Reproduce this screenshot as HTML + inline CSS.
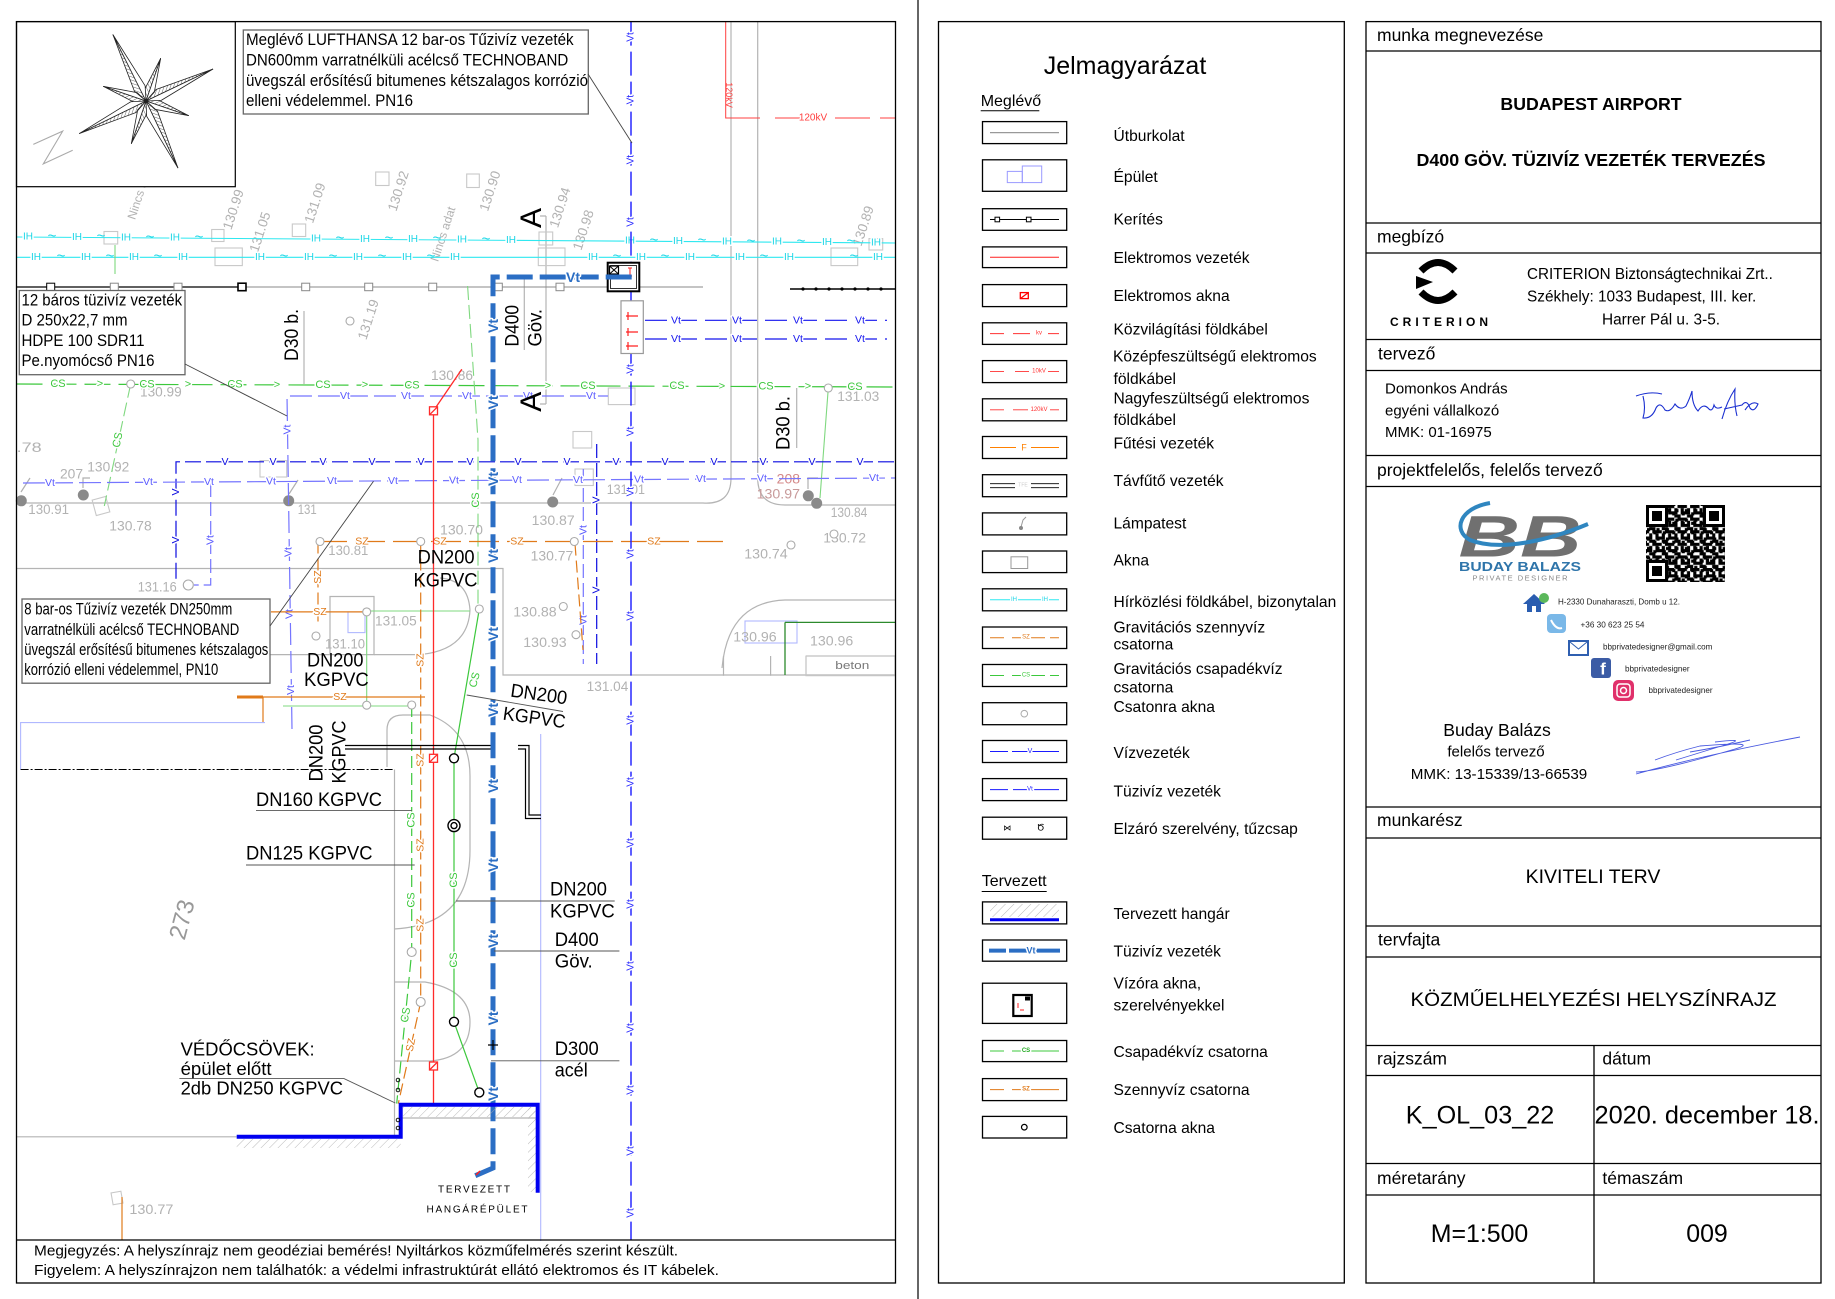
<!DOCTYPE html>
<html><head><meta charset="utf-8"><title>K_OL_03_22 közműelhelyezési helyszínrajz</title>
<style>
html,body{margin:0;padding:0;background:#fff;width:1835px;height:1299px;overflow:hidden}
svg{display:block}
text{font-family:"Liberation Sans",Arial,sans-serif;dominant-baseline:central}
.ol{paint-order:stroke;stroke:#fff;stroke-width:3px;stroke-linejoin:round}
.el{fill:#b2b2b2;font-size:13.5px}
.lg{font-size:15.6px;fill:#000}
.hd{font-size:17.5px;fill:#000}
.dl{font-size:19px;fill:#000}
.an{font-size:16.5px;fill:#000}
</style></head>
<body>
<svg width="1835" height="1299" viewBox="0 0 1835 1299" xmlns="http://www.w3.org/2000/svg">
<defs>
<pattern id="h1" width="3" height="3" patternUnits="userSpaceOnUse" patternTransform="rotate(45)"><line x1="0" y1="0" x2="0" y2="3" stroke="#222" stroke-width="0.7"/></pattern>
<pattern id="hg" width="6" height="6" patternUnits="userSpaceOnUse" patternTransform="rotate(45)"><line x1="0" y1="0" x2="0" y2="6" stroke="#aaa" stroke-width="0.8"/></pattern>
<pattern id="qr" width="12.6" height="12.6" patternUnits="userSpaceOnUse" x="1646" y="505">
<rect x="0" y="0" width="3.15" height="3.15"/><rect x="6.3" y="0" width="6.3" height="3.15"/><rect x="3.15" y="3.15" width="3.15" height="3.15"/><rect x="9.45" y="3.15" width="3.15" height="6.3"/><rect x="0" y="6.3" width="6.3" height="3.15"/><rect x="3.15" y="9.45" width="3.15" height="3.15"/><rect x="6.3" y="9.45" width="3.15" height="3.15"/>
</pattern>
<pattern id="qr2" width="9.45" height="9.45" patternUnits="userSpaceOnUse" x="1647" y="506">
<rect x="0" y="3.15" width="3.15" height="3.15"/><rect x="6.3" y="6.3" width="3.15" height="3.15"/>
</pattern>
<g id="lp"><polygon points="0,0 74,0 14,-6" fill="url(#h1)"/><polygon points="0,0 74,0 14,6" fill="#fff"/></g>
<g id="sp"><polygon points="0,0 45,0 11,-5" fill="url(#h1)"/><polygon points="0,0 45,0 11,5" fill="#fff"/></g>
</defs>

<!-- ============ DRAWING ============ -->
<!-- gray base lines -->
<g fill="none" stroke="#b4b4b4" stroke-width="1.2">
<path d="M16.5,503 H703 Q731,505 731,478 V21.6"/>
<path d="M757.7,21.6 V478 Q757.7,505 785,505 H895"/>
<path d="M16.5,568.5 H503 V675 H895"/>
<path d="M722,668 Q728,602 785,600 H895"/>
<path d="M387,767 V730 Q387,715 403,715 H430 Q470,730 470,776 V850 Q470,925 394,929"/>
<path d="M394,982 H425 Q470,990 470,1022 Q470,1058 430,1061 H394"/>
<path d="M394.5,769.5 V1136.8"/>
<path d="M230,654.6 H374 V596.5 H330 V654.6"/>
<path d="M374,654.6 H420 Q468,650 470,610 Q468,580 440,578"/>
<path d="M400,1118 H538"/>
<path d="M16.5,1136.8 H236.7"/>
<path d="M806,656 H895 M806,656 V675.7 M723.5,656 V675.7 M770.6,656 V675.7"/>
<path d="M524.3,277 V350 M546,216 V404 M540,216 H546 M540,404 H546"/>
<path d="M304,311 V384 M796.7,388 V448"/>
</g>
<g fill="none" stroke="#b0b8ff" stroke-width="1.1">
<path d="M540.7,734 V1241"/>
<path d="M20.6,769.5 V722.6 H265"/>
<rect x="745" y="621" width="52" height="22"/>
<rect x="348" y="612" width="17" height="20.6"/>
</g>
<path d="M20.6,769.5 H393" stroke="#000" stroke-width="0.9" stroke-dasharray="8 2 2 2" fill="none"/>

<!-- gray akna squares -->
<g fill="none" stroke="#c8c8c8" stroke-width="1.1">
<rect x="215" y="248" width="27.3" height="17.6"/><rect x="104" y="231.5" width="13.7" height="12.5"/><rect x="211.7" y="229.5" width="12.3" height="12"/><rect x="292.3" y="224" width="13.4" height="12.5"/><rect x="375.7" y="172" width="13.3" height="13.5"/><rect x="466.7" y="174" width="12.6" height="13.5"/><rect x="538.3" y="248" width="26.7" height="17.6"/><rect x="539" y="232" width="13.7" height="13"/><rect x="831" y="248" width="26.7" height="17.6"/><rect x="869" y="238.6" width="13.7" height="11.4"/><rect x="608.3" y="388" width="26.7" height="16.6"/><rect x="573" y="431.5" width="18.7" height="16.5"/><rect x="260" y="460.6" width="26.7" height="16.4"/><rect x="575" y="469" width="18.3" height="16.5"/><rect x="94" y="498" width="14" height="16" transform="rotate(-15 101 506)"/><rect x="806" y="656" width="89" height="19.7"/><rect x="112" y="1192" width="10" height="12" transform="rotate(-10 117 1198)"/>
</g>

<!-- elevation texts -->
<g class="el">
<text x="140" y="392" textLength="41.7" lengthAdjust="spacingAndGlyphs">130.99</text>
<text x="87.3" y="466.8" textLength="42" lengthAdjust="spacingAndGlyphs">130.92</text>
<text x="60" y="474" textLength="23" lengthAdjust="spacingAndGlyphs">207</text>
<text x="28.3" y="509.5" textLength="40.7" lengthAdjust="spacingAndGlyphs">130.91</text>
<text x="109.3" y="526" textLength="42.4" lengthAdjust="spacingAndGlyphs">130.78</text>
<text x="297.7" y="509.5" textLength="19" lengthAdjust="spacingAndGlyphs">131</text>
<text x="328.3" y="550.6" textLength="40" lengthAdjust="spacingAndGlyphs">130.81</text>
<text x="137.7" y="587" textLength="39" lengthAdjust="spacingAndGlyphs">131.16</text>
<text x="375" y="621" textLength="41.7" lengthAdjust="spacingAndGlyphs">131.05</text>
<text x="325" y="644" textLength="40" lengthAdjust="spacingAndGlyphs">131.10</text>
<text x="16.7" y="447.3" textLength="25" lengthAdjust="spacingAndGlyphs">.78</text>
<text x="431" y="375.5" textLength="42" lengthAdjust="spacingAndGlyphs">130.86</text>
<text x="440" y="530" textLength="43" lengthAdjust="spacingAndGlyphs">130.70</text>
<text x="531.7" y="520.7" textLength="43" lengthAdjust="spacingAndGlyphs">130.87</text>
<text x="530.7" y="556" textLength="42.6" lengthAdjust="spacingAndGlyphs">130.77</text>
<text x="606.7" y="489.6" textLength="38.3" lengthAdjust="spacingAndGlyphs">131.01</text>
<text x="837.3" y="396.3" textLength="42" lengthAdjust="spacingAndGlyphs">131.03</text>
<text x="830.7" y="512.4" textLength="36.6" lengthAdjust="spacingAndGlyphs">130.84</text>
<text x="823.3" y="538" textLength="42.7" lengthAdjust="spacingAndGlyphs">130.72</text>
<text x="744.3" y="554" textLength="43.4" lengthAdjust="spacingAndGlyphs">130.74</text>
<text x="513.3" y="612" textLength="43.4" lengthAdjust="spacingAndGlyphs">130.88</text>
<text x="523.3" y="642.3" textLength="43.4" lengthAdjust="spacingAndGlyphs">130.93</text>
<text x="586.7" y="686.6" textLength="41.6" lengthAdjust="spacingAndGlyphs">131.04</text>
<text x="733.3" y="637" textLength="43.4" lengthAdjust="spacingAndGlyphs">130.96</text>
<text x="810" y="641" textLength="43.3" lengthAdjust="spacingAndGlyphs">130.96</text>
<text x="129.4" y="1209.3" textLength="44" lengthAdjust="spacingAndGlyphs">130.77</text>
<text x="776.7" y="479" textLength="23.3" lengthAdjust="spacingAndGlyphs" fill="#d48a8a">208</text>
<text x="756.7" y="493.8" textLength="43.3" lengthAdjust="spacingAndGlyphs" fill="#c89a9a">130.97</text>
<text transform="translate(233.3,209.5) rotate(-72)" text-anchor="middle">130.99</text>
<text transform="translate(260,232) rotate(-72)" text-anchor="middle">131.05</text>
<text transform="translate(315,203) rotate(-72)" text-anchor="middle">131.09</text>
<text transform="translate(398.3,191) rotate(-72)" text-anchor="middle">130.92</text>
<text transform="translate(490,191) rotate(-72)" text-anchor="middle">130.90</text>
<text transform="translate(560,207.5) rotate(-72)" text-anchor="middle">130.94</text>
<text transform="translate(583.3,230) rotate(-72)" text-anchor="middle">130.98</text>
<text transform="translate(863.3,226) rotate(-72)" text-anchor="middle">130.89</text>
<text transform="translate(368.3,319.5) rotate(-72)" text-anchor="middle">131.19</text>
<text transform="translate(140,192) rotate(-72)" text-anchor="middle" font-size="12">Nincs adat</text>
<text transform="translate(443,234) rotate(-72)" text-anchor="middle" font-size="12">Nincs adat</text>
<text transform="translate(182.4,919.7) rotate(-75)" text-anchor="middle" font-size="24" fill="#999">273</text>
<text x="835.3" y="665.8" font-size="11" fill="#777" textLength="34" lengthAdjust="spacingAndGlyphs">beton</text>
</g>

<!-- lamps -->
<g fill="#8a8a8a">
<circle cx="21.3" cy="500.8" r="5.5"/><circle cx="83.3" cy="495" r="5.5"/><circle cx="288.7" cy="500.8" r="5.5"/><circle cx="552.7" cy="502" r="5.5"/><circle cx="808.3" cy="495.8" r="5.5"/><circle cx="816.7" cy="503.3" r="5.5"/>
</g>
<g stroke="#b0b0b0" stroke-width="1.2" fill="none">
<path d="M21,492 L30,478 M83,488 V478 H90 M289,494 L298,480 M553,495 L562,478 M808,489 V478 H818"/>
</g>

<!-- cyan comm lines -->
<g stroke="#2ee8f0" stroke-width="1.1" fill="none"><path d="M16.5,237 L895,243"/><path d="M16.5,257.3 H895"/></g>
<g fill="#19d6e6" font-size="10" text-anchor="middle" class="ol">
<text x="28" y="237.1">IH</text><text x="77" y="237.4">IH</text><text x="126" y="237.8">IH</text><text x="175" y="238.1">IH</text><text x="316" y="239">IH</text><text x="365" y="239.4">IH</text><text x="413" y="239.7">IH</text><text x="462" y="240">IH</text><text x="511" y="240.4">IH</text><text x="630" y="241.2">IH</text><text x="678" y="241.5">IH</text><text x="727" y="241.8">IH</text><text x="777" y="242.2">IH</text><text x="827" y="242.5">IH</text><text x="876" y="242.9">IH</text>
<text x="36" y="257.3">IH</text><text x="86" y="257.3">IH</text><text x="134" y="257.3">IH</text><text x="183" y="257.3">IH</text><text x="260" y="257.3">IH</text><text x="309" y="257.3">IH</text><text x="358" y="257.3">IH</text><text x="407" y="257.3">IH</text><text x="455" y="257.3">IH</text><text x="593" y="257.3">IH</text><text x="641" y="257.3">IH</text><text x="690" y="257.3">IH</text><text x="740" y="257.3">IH</text><text x="789" y="257.3">IH</text><text x="878" y="257.3">IH</text>
</g>
<g fill="#19d6e6" font-size="15" text-anchor="middle">
<text x="52" y="236">~</text><text x="101" y="236">~</text><text x="150" y="237">~</text><text x="199" y="237">~</text><text x="340" y="238">~</text><text x="389" y="238">~</text><text x="437" y="238">~</text><text x="486" y="239">~</text><text x="654" y="240">~</text><text x="702" y="240">~</text><text x="751" y="241">~</text><text x="801" y="241">~</text><text x="851" y="241">~</text>
<text x="61" y="256">~</text><text x="110" y="256">~</text><text x="158" y="256">~</text><text x="284" y="256">~</text><text x="333" y="256">~</text><text x="382" y="256">~</text><text x="431" y="256">~</text><text x="617" y="256">~</text><text x="665" y="256">~</text><text x="715" y="256">~</text><text x="764" y="256">~</text><text x="854" y="256">~</text>
</g>

<!-- fence -->
<path d="M16.5,287 H241.7" stroke="#000" stroke-width="1.3"/>
<path d="M241.7,287 H703" stroke="#888" stroke-width="1"/>
<g fill="#fff" stroke="#888" stroke-width="1">
<rect x="46.7" y="283.2" width="8" height="7.5" stroke="#000"/><rect x="110.3" y="283.2" width="8" height="7.5"/><rect x="174" y="283.2" width="8" height="7.5"/><rect x="238" y="283.2" width="8" height="7.5" stroke="#000" stroke-width="1.6"/><rect x="301.7" y="283.2" width="8" height="7.5"/><rect x="364.7" y="283.2" width="8" height="7.5"/><rect x="428.7" y="283.2" width="8" height="7.5"/><rect x="494.3" y="283.2" width="8" height="7.5"/><rect x="556" y="283.2" width="8" height="7.5"/><rect x="620" y="283.2" width="8" height="7.5"/>
</g>
<path d="M790,289 H895" stroke="#000" stroke-width="1.5"/>
<g fill="#000"><circle cx="803" cy="289" r="1.6"/><circle cx="816" cy="289" r="1.6"/><circle cx="829" cy="289" r="1.6"/><circle cx="842" cy="289" r="1.6"/><circle cx="855" cy="289" r="1.6"/><circle cx="868" cy="289" r="1.6"/><circle cx="881" cy="289" r="1.6"/></g>

<!-- 120kV -->
<g stroke="#ff4040" stroke-width="1" fill="none"><path d="M725.7,21.6 V118 H760 M775,118 H800 M835,118 H870 M880,118 H895"/></g>
<g fill="#ff4040" font-size="10"><text x="813" y="118" text-anchor="middle" class="ol">120kV</text><text transform="translate(729,95) rotate(90)" text-anchor="middle" font-size="9">120kV</text></g>

<!-- green CS -->
<g stroke="#3cc83c" stroke-width="1.2" fill="none">
<path d="M16.5,384 L895,387" stroke-dasharray="26 8"/>
<path d="M454,758 V1022 L479.3,1092.4 M454,758 L479.3,609"/>
<path d="M411.7,705 V952 L396.7,1103.6" stroke-dasharray="12 5"/>
</g>
<g stroke="#7fd87f" stroke-width="1.1" fill="none">
<path d="M467.6,286 L478,440 V609" stroke-dasharray="14 5"/>
<path d="M115,245 V274"/>
<path d="M130.7,384 L104.3,506" stroke-dasharray="14 5"/>
<path d="M366.7,610 V705 M283,706 H411.7 M366.7,611 H470"/>
<path d="M828.3,388 L820,498"/>
</g>
<path d="M785,622.4 H895 M785,622.4 V675" stroke="#2d8a2d" stroke-width="1.3" fill="none"/>
<g fill="#3cc83c" font-size="11" text-anchor="middle" class="ol">
<text x="58" y="384.1">CS</text><text x="147" y="384.4">CS</text><text x="235" y="384.7">CS</text><text x="323" y="385">CS</text><text x="412" y="385.3">CS</text><text x="588" y="386">CS</text><text x="677" y="386.2">CS</text><text x="766" y="386.5">CS</text><text x="855" y="386.9">CS</text>
<text x="100" y="384">&gt;</text><text x="188" y="384.5">&gt;</text><text x="277" y="385">&gt;</text><text x="365" y="385">&gt;</text><text x="548" y="386">&gt;</text><text x="722" y="386.5">&gt;</text><text x="808" y="386.7">&gt;</text>
<text transform="translate(454,880) rotate(-90)">CS</text><text transform="translate(454,960) rotate(-90)">CS</text><text transform="translate(411.7,820) rotate(-90)">CS</text><text transform="translate(411.7,900) rotate(-90)">CS</text><text transform="translate(475,680) rotate(-75)">CS</text><text transform="translate(406,1015) rotate(-80)">CS</text><text transform="translate(476,500) rotate(-90)">CS</text><text transform="translate(118,440) rotate(-78)">CS</text>
</g>

<!-- blue water lines -->
<g fill="none" stroke-width="1.2">
<path d="M176,578.8 V461.8 H895" stroke="#0a0ae0" stroke-dasharray="16 5"/>
<path d="M23,483 L895,478" stroke="#7575ff" stroke-dasharray="22 6"/>
<path d="M292,729 L287,396 H608" stroke="#7575ff" stroke-dasharray="22 6"/>
<path d="M210.7,483 V585 H194" stroke="#7575ff" stroke-dasharray="14 5"/>
<path d="M583.3,469 V664" stroke="#7575ff" stroke-dasharray="14 5"/>
<path d="M596.7,444 V664" stroke="#0a0ae0" stroke-dasharray="14 5"/>
<path d="M645,320.3 H887 M645,339 H887" stroke="#1515ee" stroke-dasharray="22 8"/>
</g>
<g fill="#0a0ae0" font-size="10.5" text-anchor="middle" class="ol">
<text x="225" y="461.8">V</text><text x="273" y="461.8">V</text><text x="323" y="461.8">V</text><text x="372" y="461.8">V</text><text x="421" y="461.8">V</text><text x="470" y="461.8">V</text><text x="518" y="461.8">V</text><text x="567" y="461.8">V</text><text x="616" y="461.8">V</text><text x="665" y="461.8">V</text><text x="714" y="461.8">V</text><text x="763" y="461.8">V</text><text x="812" y="461.8">V</text><text x="860" y="461.8">V</text>
<text transform="translate(176,492) rotate(-90)">V</text><text transform="translate(176,540) rotate(-90)">V</text><text transform="translate(596.7,500) rotate(-90)">V</text><text transform="translate(596.7,590) rotate(-90)">V</text>
</g>
<g fill="#5a5aff" font-size="10.5" text-anchor="middle" class="ol">
<text x="50" y="482.8">Vt</text><text x="148" y="482.2">Vt</text><text x="209" y="481.9">Vt</text><text x="271" y="481.5">Vt</text><text x="332" y="481.2">Vt</text><text x="393" y="480.8">Vt</text><text x="454" y="480.5">Vt</text><text x="517" y="480.1">Vt</text><text x="578" y="479.8">Vt</text><text x="639" y="479.4">Vt</text><text x="701" y="479.1">Vt</text><text x="762" y="478.7">Vt</text><text x="874" y="478.1">Vt</text>
<text x="345" y="396">Vt</text><text x="406" y="396">Vt</text><text x="467" y="396">Vt</text><text x="528" y="396">Vt</text><text x="591" y="396">Vt</text>
<text transform="translate(287.5,429.5) rotate(-90)">Vt</text><text transform="translate(288.5,552) rotate(-90)">Vt</text><text transform="translate(289.5,614) rotate(-90)">Vt</text><text transform="translate(291,690) rotate(-90)">Vt</text><text transform="translate(210.7,540) rotate(-90)">Vt</text><text transform="translate(583.3,530) rotate(-90)">Vt</text><text transform="translate(583.3,620) rotate(-90)">Vt</text>
</g>
<g fill="#1515ee" font-size="10.5" text-anchor="middle" class="ol">
<text x="676" y="320.3">Vt</text><text x="737" y="320.3">Vt</text><text x="798" y="320.3">Vt</text><text x="860" y="320.3">Vt</text>
<text x="676" y="339">Vt</text><text x="737" y="339">Vt</text><text x="798" y="339">Vt</text><text x="860" y="339">Vt</text>
</g>

<!-- orange sewer -->
<g stroke="#e07a1a" stroke-width="1.2" fill="none">
<path d="M317,541.5 H723" stroke-dasharray="30 8"/>
<path d="M420.7,541.5 V1002 L398.3,1103.6" stroke-dasharray="12 5"/>
<path d="M318,541.5 V625" stroke-dasharray="12 5"/>
<path d="M271,611.9 H367"/>
<path d="M237,697 H263" stroke-width="3"/><path d="M263,697 H425 M263,697 V722"/>
<path d="M575,543.6 L583,650" stroke-dasharray="12 5"/>
<path d="M122,1197 V1240"/>
</g>
<g fill="#e07a1a" font-size="10.5" text-anchor="middle" class="ol">
<text x="362" y="541.5">SZ</text><text x="440" y="541.5">SZ</text><text x="517" y="541.5">SZ</text><text x="654" y="541.5">SZ</text><text x="320" y="611.9">SZ</text><text x="340" y="697">SZ</text>
<text transform="translate(318,577) rotate(-90)">SZ</text><text transform="translate(420.7,660) rotate(-90)">SZ</text><text transform="translate(420.7,760) rotate(-90)">SZ</text><text transform="translate(420.7,845) rotate(-90)">SZ</text><text transform="translate(420.7,925) rotate(-90)">SZ</text><text transform="translate(411,1045) rotate(-78)">SZ</text>
</g>

<!-- manhole circles -->
<g fill="#fff" stroke="#aaa" stroke-width="1.1">
<circle cx="130.7" cy="384" r="4"/><circle cx="188.3" cy="585" r="5"/><circle cx="320" cy="541.5" r="4"/><circle cx="420.7" cy="541.5" r="4"/><circle cx="574.3" cy="541.5" r="4"/><circle cx="828.3" cy="388" r="4"/><circle cx="316" cy="636" r="4"/><circle cx="366.7" cy="611.9" r="4"/><circle cx="366.7" cy="705.2" r="4"/><circle cx="411.7" cy="705" r="4"/><circle cx="479.3" cy="609" r="4"/><circle cx="563.3" cy="606.5" r="4"/><circle cx="576" cy="634.7" r="4"/><circle cx="411.7" cy="952" r="4.5"/><circle cx="420.7" cy="1002" r="4.5"/><circle cx="350" cy="321" r="4"/><circle cx="834" cy="534" r="4"/><circle cx="791" cy="545" r="4"/>
</g>

<!-- red electric -->
<g stroke="#ff2a2a" stroke-width="1.3" fill="none"><path d="M433.5,410.8 V1103.6"/><path d="M433.5,410.8 L461.8,369.3"/></g>
<g stroke="#ff2a2a" stroke-width="1.3" fill="#fff">
<rect x="429.5" y="406.8" width="8" height="8"/><path d="M429.5,414.8 L437.5,406.8"/>
<rect x="429.5" y="754.3" width="8" height="8"/><path d="M429.5,762.3 L437.5,754.3"/>
<rect x="429.5" y="1062" width="8" height="8"/><path d="M429.5,1070 L437.5,1062"/>
</g>

<!-- black double line -->
<path d="M345,745.5 H493 M345,749 H493 M518,745.5 H529 V815 H541 M518,749 H525.5 V818.5 H541" stroke="#000" stroke-width="1.2" fill="none"/>

<!-- green/black circles on planned lines -->
<g fill="#fff" stroke="#000" stroke-width="1.4">
<circle cx="454" cy="758.3" r="4.5"/><circle cx="454" cy="825.6" r="6"/><circle cx="454" cy="825.6" r="3"/><circle cx="454" cy="1021.8" r="4.5"/><circle cx="479.3" cy="1092.4" r="4.5"/>
</g>

<!-- main Vt vertical -->
<path d="M631,21.6 V1240" stroke="#1a1aff" stroke-width="1.4" stroke-dasharray="24 6" fill="none"/>
<g fill="#2a2aff" font-size="10" text-anchor="middle" class="ol">
<text transform="translate(631,37) rotate(-90)">Vt</text><text transform="translate(631,99.6) rotate(-90)">Vt</text><text transform="translate(631,159.7) rotate(-90)">Vt</text><text transform="translate(631,222) rotate(-90)">Vt</text><text transform="translate(631,369) rotate(-90)">Vt</text><text transform="translate(631,431.5) rotate(-90)">Vt</text><text transform="translate(631,491.7) rotate(-90)">Vt</text><text transform="translate(631,554) rotate(-90)">Vt</text><text transform="translate(631,616) rotate(-90)">Vt</text><text transform="translate(631,720) rotate(-90)">Vt</text><text transform="translate(631,782) rotate(-90)">Vt</text><text transform="translate(631,843) rotate(-90)">Vt</text><text transform="translate(631,904) rotate(-90)">Vt</text><text transform="translate(631,966) rotate(-90)">Vt</text><text transform="translate(631,1028) rotate(-90)">Vt</text><text transform="translate(631,1090) rotate(-90)">Vt</text><text transform="translate(631,1151) rotate(-90)">Vt</text><text transform="translate(631,1213) rotate(-90)">Vt</text>
</g>

<!-- meter boxes -->
<rect x="607.7" y="262.7" width="31.6" height="28.6" fill="#fff" stroke="#000" stroke-width="2"/>
<rect x="610.5" y="265.5" width="26" height="23" fill="none" stroke="#000" stroke-width="0.8"/>
<rect x="609.5" y="266" width="9" height="8" fill="#fff" stroke="#000" stroke-width="1.2"/>
<path d="M609.5,266 L618.5,274 M618.5,266 L609.5,274" stroke="#000" stroke-width="1"/>
<path d="M630,268 V276 M628,268 H632 M628,276 H632" stroke="#ff2020" stroke-width="1"/>
<rect x="621" y="300.8" width="22.3" height="52.7" fill="#fff" stroke="#999" stroke-width="1.2"/>
<path d="M628,312 V320 M626,316 H638 M628,328 V336 M626,332 H638 M628,342 V350 M626,346 H638" stroke="#ff2020" stroke-width="1.2"/>

<!-- planned pipe -->
<path d="M631.7,277 H493 V1168 L470,1178" stroke="#2b6ec4" stroke-width="5" fill="none" stroke-dasharray="26 7"/>
<path d="M476,1175 L480,1171" stroke="#ff2020" stroke-width="1.5"/>
<g fill="#2b6ec4" font-size="14" font-weight="bold" text-anchor="middle" class="ol">
<text x="573" y="277">Vt</text>
<text transform="translate(493,326) rotate(-90)">Vt</text><text transform="translate(493,402.5) rotate(-90)">Vt</text><text transform="translate(493,479) rotate(-90)">Vt</text><text transform="translate(493,556) rotate(-90)">Vt</text><text transform="translate(493,634) rotate(-90)">Vt</text><text transform="translate(493,710) rotate(-90)">Vt</text><text transform="translate(493,786) rotate(-90)">Vt</text><text transform="translate(493,865) rotate(-90)">Vt</text><text transform="translate(493,941) rotate(-90)">Vt</text><text transform="translate(493,1018.5) rotate(-90)">Vt</text><text transform="translate(493,1094) rotate(-90)">Vt</text>
</g>
<path d="M488,1045 H498 M493,1040 V1050" stroke="#000" stroke-width="1.2"/>

<!-- planned hangar -->
<rect x="236.7" y="1139" width="164" height="9" fill="url(#hg)"/>
<rect x="403" y="1107" width="132" height="10" fill="url(#hg)"/>
<rect x="528" y="1107" width="8" height="85" fill="url(#hg)"/>
<path d="M236.7,1136.8 H400.7 V1104.8 H537.7 V1192.8" stroke="#0000f0" stroke-width="4" fill="none"/>
<g fill="none" stroke="#000" stroke-width="0.9"><circle cx="398" cy="1080" r="1.8"/><circle cx="398" cy="1090" r="1.8"/><circle cx="398" cy="1120" r="1.8"/><circle cx="398" cy="1128" r="1.8"/></g>
<text x="474" y="1190" text-anchor="middle" font-size="10" textLength="72" lengthAdjust="spacing">TERVEZETT</text>
<text x="477" y="1210" text-anchor="middle" font-size="10" textLength="101" lengthAdjust="spacing">HANGÁRÉPÜLET</text>

<!-- compass box -->
<rect x="16.5" y="21.6" width="218.8" height="165.1" fill="#fff" stroke="#000" stroke-width="1.2"/>
<polyline points="33.3,144.4 62.7,131.1 43.3,163.9 72.7,150.2" fill="none" stroke="#aaa" stroke-width="1.1"/>
<g transform="translate(146,101)" stroke="#222" stroke-width="0.8" stroke-linejoin="round">
<use href="#sp" transform="rotate(-71)"/><use href="#sp" transform="rotate(19)"/><use href="#sp" transform="rotate(109)"/><use href="#sp" transform="rotate(-161)"/>
<use href="#lp" transform="rotate(-116.5)"/><use href="#lp" transform="rotate(-25.5)"/><use href="#lp" transform="rotate(64.5)"/><use href="#lp" transform="rotate(154)"/>
</g>

<!-- annotation boxes -->
<rect x="243.3" y="30" width="345" height="84" fill="#fff" stroke="#666" stroke-width="1.3"/>
<g class="an">
<text x="246" y="40.2" textLength="327.6" lengthAdjust="spacingAndGlyphs">Meglévő LUFTHANSA 12 bar-os Tűzivíz vezeték</text>
<text x="246" y="60.5" textLength="322.3" lengthAdjust="spacingAndGlyphs">DN600mm varratnélküli acélcső TECHNOBAND</text>
<text x="246" y="80.9" textLength="342" lengthAdjust="spacingAndGlyphs">üvegszál erősítésű bitumenes kétszalagos korrózió</text>
<text x="246" y="100.8" textLength="167" lengthAdjust="spacingAndGlyphs">elleni védelemmel. PN16</text>
</g>
<path d="M588,74 L632,143" stroke="#444" stroke-width="0.9"/>

<rect x="19.3" y="290.5" width="165.7" height="84.2" fill="#fff" stroke="#666" stroke-width="1.3"/>
<g class="an">
<text x="21.5" y="300.5" textLength="160.6" lengthAdjust="spacingAndGlyphs">12 báros tüzivíz vezeték</text>
<text x="21.5" y="320.5" textLength="106" lengthAdjust="spacingAndGlyphs">D 250x22,7 mm</text>
<text x="21.5" y="341" textLength="123" lengthAdjust="spacingAndGlyphs">HDPE 100 SDR11</text>
<text x="21.5" y="361" textLength="133" lengthAdjust="spacingAndGlyphs">Pe.nyomócső PN16</text>
</g>
<path d="M185,364 L287,416" stroke="#444" stroke-width="0.9"/>

<rect x="22" y="599" width="248" height="84.2" fill="#fff" stroke="#666" stroke-width="1.3"/>
<g class="an">
<text x="24.3" y="609.3" textLength="208" lengthAdjust="spacingAndGlyphs">8 bar-os Tűzivíz vezeték DN250mm</text>
<text x="24.3" y="629.8" textLength="215" lengthAdjust="spacingAndGlyphs">varratnélküli acélcső TECHNOBAND</text>
<text x="24.3" y="650" textLength="244" lengthAdjust="spacingAndGlyphs">üvegszál erősítésű bitumenes kétszalagos</text>
<text x="24.3" y="669.8" textLength="194" lengthAdjust="spacingAndGlyphs">korrózió elleni védelemmel, PN10</text>
</g>
<path d="M270,626 L373.5,481.3" stroke="#444" stroke-width="0.9"/>

<!-- drawing labels -->
<g class="dl">
<text x="417.6" y="558" textLength="57" lengthAdjust="spacingAndGlyphs">DN200</text>
<text x="413.5" y="581" textLength="64" lengthAdjust="spacingAndGlyphs">KGPVC</text>
<text x="307" y="661" textLength="56.5" lengthAdjust="spacingAndGlyphs">DN200</text>
<text x="304" y="680.7" textLength="64.8" lengthAdjust="spacingAndGlyphs">KGPVC</text>
<text transform="translate(317,753) rotate(-90)" text-anchor="middle" textLength="57" lengthAdjust="spacingAndGlyphs">DN200</text>
<text transform="translate(340,752) rotate(-90)" text-anchor="middle" textLength="63" lengthAdjust="spacingAndGlyphs">KGPVC</text>
<text x="256" y="800.6" textLength="126" lengthAdjust="spacingAndGlyphs">DN160 KGPVC</text>
<text x="246" y="854" textLength="126.5" lengthAdjust="spacingAndGlyphs">DN125 KGPVC</text>
<text transform="translate(510.6,691) rotate(8)" textLength="57" lengthAdjust="spacingAndGlyphs">DN200</text>
<text transform="translate(503,714) rotate(8)" textLength="63" lengthAdjust="spacingAndGlyphs">KGPVC</text>
<text x="550" y="889.8" textLength="57" lengthAdjust="spacingAndGlyphs">DN200</text>
<text x="550" y="912" textLength="64.7" lengthAdjust="spacingAndGlyphs">KGPVC</text>
<text x="554.7" y="940.5" textLength="44" lengthAdjust="spacingAndGlyphs">D400</text>
<text x="554.7" y="962" textLength="38" lengthAdjust="spacingAndGlyphs">Göv.</text>
<text x="554.7" y="1049.6" textLength="44" lengthAdjust="spacingAndGlyphs">D300</text>
<text x="554.7" y="1071" textLength="33" lengthAdjust="spacingAndGlyphs">acél</text>
<text transform="translate(513,325.7) rotate(-90)" text-anchor="middle" textLength="41.5" lengthAdjust="spacingAndGlyphs">D400</text>
<text transform="translate(536,327.7) rotate(-90)" text-anchor="middle" textLength="37.5" lengthAdjust="spacingAndGlyphs">Göv.</text>
<text transform="translate(292.5,335) rotate(-90)" text-anchor="middle" textLength="52" lengthAdjust="spacingAndGlyphs">D30 b.</text>
<text transform="translate(784.2,423) rotate(-90)" text-anchor="middle" textLength="54" lengthAdjust="spacingAndGlyphs">D30 b.</text>
<text transform="translate(531.7,218) rotate(-90)" text-anchor="middle" font-size="30">A</text>
<text transform="translate(531.7,401.7) rotate(-90)" text-anchor="middle" font-size="30">A</text>
</g>
<g font-size="18" fill="#000">
<text x="180.6" y="1049.6" textLength="134" lengthAdjust="spacingAndGlyphs">VÉDŐCSÖVEK:</text>
<text x="180.6" y="1069" textLength="91" lengthAdjust="spacingAndGlyphs">épület előtt</text>
<text x="180.6" y="1088.6" textLength="162.4" lengthAdjust="spacingAndGlyphs">2db DN250 KGPVC</text>
</g>
<g stroke="#555" stroke-width="0.9" fill="none">
<path d="M256,810.6 H411.8"/><path d="M246,865 H414.7"/><path d="M466.7,695 L563,711.5"/><path d="M456,901 H614.7"/><path d="M494,951 H619.4"/><path d="M491,1060.8 H619.4"/><path d="M179.4,1078.6 H344 L395.3,1103"/>
</g>

<!-- notes -->
<path d="M16.5,1240 H895.5" stroke="#000" stroke-width="1.2"/>
<text x="34" y="1251" font-size="15" textLength="644" lengthAdjust="spacingAndGlyphs">Megjegyzés: A helyszínrajz nem geodéziai bemérés! Nyiltárkos közműfelmérés szerint készült.</text>
<text x="34" y="1270.7" font-size="15" textLength="685" lengthAdjust="spacingAndGlyphs">Figyelem: A helyszínrajzon nem találhatók:  a védelmi infrastruktúrát ellátó elektromos és IT kábelek.</text>

<!-- frame -->
<rect x="16.5" y="21.6" width="879" height="1261.4" fill="none" stroke="#000" stroke-width="1.3"/>
<path d="M918,0 V1299" stroke="#000" stroke-width="1.2"/>

<!-- ============ LEGEND ============ -->
<rect x="938.5" y="21.6" width="405.8" height="1261.4" fill="none" stroke="#000" stroke-width="1.3"/>
<text x="1125" y="66" text-anchor="middle" font-size="25">Jelmagyarázat</text>
<text x="980.7" y="101.7" font-size="16">Meglévő</text>
<path d="M980.7,110.8 H1039.3" stroke="#000" stroke-width="1"/>
<text x="981.7" y="881.5" font-size="16">Tervezett</text>
<path d="M981.7,891.5 H1046.7" stroke="#000" stroke-width="1"/>

<g fill="none" stroke="#000" stroke-width="1.3">
<rect x="982.5" y="121.6" width="84.2" height="22"/>
<rect x="982.5" y="159.8" width="84.2" height="31.5"/>
<rect x="982.5" y="208.7" width="84.2" height="21.6"/>
<rect x="982.5" y="246.9" width="84.2" height="20.7"/>
<rect x="982.5" y="284.6" width="84.2" height="22"/>
<rect x="982.5" y="322.8" width="84.2" height="21.6"/>
<rect x="982.5" y="360.6" width="84.2" height="22"/>
<rect x="982.5" y="398.8" width="84.2" height="22"/>
<rect x="982.5" y="436.5" width="84.2" height="22"/>
<rect x="982.5" y="474.7" width="84.2" height="22"/>
<rect x="982.5" y="512.9" width="84.2" height="22"/>
<rect x="982.5" y="551" width="84.2" height="21.6"/>
<rect x="982.5" y="588.8" width="84.2" height="22"/>
<rect x="982.5" y="627" width="84.2" height="21.5"/>
<rect x="982.5" y="664.5" width="84.2" height="22"/>
<rect x="982.5" y="702.7" width="84.2" height="22"/>
<rect x="982.5" y="740.5" width="84.2" height="22"/>
<rect x="982.5" y="778.6" width="84.2" height="22"/>
<rect x="982.5" y="817.2" width="84.2" height="22"/>
<rect x="982.5" y="901.9" width="84.2" height="22"/>
<rect x="982.5" y="940" width="84.2" height="21.2"/>
<rect x="982.5" y="983.2" width="84.2" height="40.2"/>
<rect x="982.5" y="1040.5" width="84.2" height="21.1"/>
<rect x="982.5" y="1078.6" width="84.2" height="22"/>
<rect x="982.5" y="1116.4" width="84.2" height="21.6"/>
</g>
<!-- legend symbols -->
<path d="M990,132.6 H1059" stroke="#999" stroke-width="1.2"/>
<rect x="1007.3" y="171.4" width="15" height="11.2" fill="none" stroke="#9a9aff"/><rect x="1022.3" y="166" width="19.4" height="16.6" fill="none" stroke="#9a9aff"/>
<path d="M990,219.5 H1059" stroke="#000" stroke-width="1"/><rect x="995" y="217.2" width="4.6" height="4.6" fill="#fff" stroke="#000"/><rect x="1026.4" y="217.2" width="4.6" height="4.6" fill="#fff" stroke="#000"/>
<path d="M990,257.3 H1059" stroke="#ff2020" stroke-width="1"/>
<rect x="1020.3" y="292.6" width="8" height="6" fill="#fff" stroke="#ff0000" stroke-width="1.3"/><path d="M1020.3,298.6 L1028.3,292.6" stroke="#ff0000" stroke-width="1.2"/>
<path d="M990,333.6 H1004 M1013,333.6 H1030 M1048,333.6 H1059" stroke="#ff3030" stroke-width="1"/><text x="1039" y="333.6" font-size="6" fill="#ff3030" text-anchor="middle">kv</text>
<path d="M990,371.6 H1004 M1015,371.6 H1029 M1048,371.6 H1059" stroke="#ff3030" stroke-width="0.9"/><text x="1039" y="371.6" font-size="6" fill="#ff3030" text-anchor="middle">10kV</text>
<path d="M990,409.8 H1004 M1013,409.8 H1028 M1050,409.8 H1059" stroke="#ff3030" stroke-width="0.9"/><text x="1039" y="409.8" font-size="6" fill="#ff3030" text-anchor="middle">120kV</text>
<path d="M990,447.5 H1016 M1031,447.5 H1059" stroke="#ff8000" stroke-width="1"/><text x="1024" y="447.5" font-size="9" fill="#ff8000" text-anchor="middle">F</text>
<path d="M990,483.7 H1015 M1031,483.7 H1059 M990,487.7 H1015 M1031,487.7 H1059" stroke="#000" stroke-width="0.9"/><text x="1023" y="485.7" font-size="5" fill="#ccc" text-anchor="middle">TFE</text>
<path d="M1021,527 L1023,520 L1026,517" stroke="#999" fill="none"/><circle cx="1021" cy="528" r="2" fill="#888"/>
<rect x="1011" y="556.8" width="16.7" height="11.7" fill="none" stroke="#999"/>
<path d="M990,599.8 H1059" stroke="#2ee8f0" stroke-width="1"/><text x="1014" y="599.8" font-size="6" fill="#19d6e6" text-anchor="middle" class="ol">IH</text><text x="1045" y="599.8" font-size="6" fill="#19d6e6" text-anchor="middle" class="ol">IH</text>
<path d="M990,637.7 H1004 M1012,637.7 H1059" stroke="#e07a1a" stroke-width="1" stroke-dasharray="14 5"/><text x="1026" y="637.7" font-size="6" fill="#e07a1a" text-anchor="middle" class="ol">SZ</text>
<path d="M990,675.5 H1004 M1012,675.5 H1059" stroke="#3cc83c" stroke-width="1" stroke-dasharray="14 5"/><text x="1026" y="675.5" font-size="6" fill="#3cc83c" text-anchor="middle" class="ol">CS</text>
<circle cx="1024.3" cy="713.7" r="3.3" fill="none" stroke="#aaa"/>
<path d="M990,751.5 H1008 M1012,751.5 H1059" stroke="#1a1aff" stroke-width="1"/><text x="1030" y="751.5" font-size="7" fill="#1a1aff" text-anchor="middle" class="ol">V</text>
<path d="M990,789.6 H1008 M1013,789.6 H1059" stroke="#1a1aff" stroke-width="1"/><text x="1030" y="789.6" font-size="6" fill="#1a1aff" text-anchor="middle" class="ol">Vt</text>
<text x="1007.3" y="828.2" font-size="8" text-anchor="middle">⋈</text><text x="1040.7" y="827.5" font-size="9" text-anchor="middle">Ծ</text>
<rect x="990" y="904" width="69" height="13" fill="url(#hg)"/><path d="M990,919.7 H1059" stroke="#0000f0" stroke-width="3"/>
<path d="M989,950.6 H1006 M1009,950.6 H1060" stroke="#2b6ec4" stroke-width="4"/><text x="1031" y="950.6" font-size="9" font-weight="bold" fill="#2b6ec4" text-anchor="middle" class="ol">Vt</text>
<rect x="1013.3" y="995" width="18.4" height="21" fill="#fff" stroke="#000" stroke-width="2.2"/><rect x="1025" y="996.5" width="5" height="4" fill="#000"/><path d="M1018,1003 V1008 M1020,1010 H1024" stroke="#ff2020" stroke-width="1"/>
<path d="M990,1051 H1004 M1012,1051 H1059" stroke="#3cc83c" stroke-width="1"/><text x="1026" y="1051" font-size="6" fill="#22aa22" font-weight="bold" text-anchor="middle" class="ol">CS</text>
<path d="M990,1089.6 H1004 M1012,1089.6 H1059" stroke="#e07a1a" stroke-width="1"/><text x="1026" y="1089.6" font-size="6" fill="#e07a1a" font-weight="bold" text-anchor="middle" class="ol">SZ</text>
<circle cx="1024.3" cy="1127.2" r="2.8" fill="#fff" stroke="#000" stroke-width="1.2"/>

<g class="lg">
<text x="1113.5" y="136.5">Útburkolat</text>
<text x="1113.5" y="177.6">Épület</text>
<text x="1113.5" y="220">Kerítés</text>
<text x="1113.5" y="258.5">Elektromos vezeték</text>
<text x="1113.5" y="296.7">Elektromos akna</text>
<text x="1113.5" y="330">Közvilágítási földkábel</text>
<text x="1113" y="357">Középfeszültségű elektromos</text>
<text x="1113.5" y="379.7">földkábel</text>
<text x="1113.5" y="399">Nagyfeszültségű elektromos</text>
<text x="1113.5" y="420.7">földkábel</text>
<text x="1113.5" y="444">Fűtési vezeték</text>
<text x="1113.5" y="481.7">Távfűtő vezeték</text>
<text x="1113.5" y="524">Lámpatest</text>
<text x="1113.5" y="561">Akna</text>
<text x="1113.5" y="602.5">Hírközlési földkábel, bizonytalan</text>
<text x="1113.5" y="628">Gravitációs szennyvíz</text>
<text x="1113.5" y="645">csatorna</text>
<text x="1113.5" y="669.5">Gravitációs csapadékvíz</text>
<text x="1113.5" y="687.8">csatorna</text>
<text x="1113.5" y="707.7">Csatonra akna</text>
<text x="1113.5" y="753.7">Vízvezeték</text>
<text x="1113.5" y="791.9">Tüzivíz vezeték</text>
<text x="1113.5" y="829.3">Elzáró szerelvény, tűzcsap</text>
<text x="1113.5" y="914.3">Tervezett hangár</text>
<text x="1113.5" y="952">Tüzivíz vezeték</text>
<text x="1113.5" y="984">Vízóra akna,</text>
<text x="1113.5" y="1006">szerelvényekkel</text>
<text x="1113.5" y="1052.5">Csapadékvíz csatorna</text>
<text x="1113.5" y="1090.7">Szennyvíz csatorna</text>
<text x="1113.5" y="1128.4">Csatorna akna</text>
</g>

<!-- ============ TITLE BLOCK ============ -->
<rect x="1366" y="21.6" width="455" height="1261.4" fill="none" stroke="#000" stroke-width="1.3"/>
<path d="M1366,51 H1821 M1366,223 H1821 M1366,253 H1821 M1366,339.5 H1821 M1366,370.5 H1821 M1366,455.5 H1821 M1366,486.5 H1821 M1366,807 H1821 M1366,838 H1821 M1366,926 H1821 M1366,957 H1821 M1366,1045.5 H1821 M1366,1075.5 H1821 M1366,1163.5 H1821 M1366,1195 H1821 M1594,1045.5 V1283" stroke="#000" stroke-width="1.3" fill="none"/>
<g class="hd">
<text x="1377" y="35">munka megnevezése</text>
<text x="1377" y="236.5">megbízó</text>
<text x="1378" y="353.5">tervező</text>
<text x="1377" y="470">projektfelelős, felelős tervező</text>
<text x="1377" y="820">munkarész</text>
<text x="1378" y="939.6">tervfajta</text>
<text x="1377" y="1058.7">rajzszám</text>
<text x="1602.4" y="1058.7">dátum</text>
<text x="1377" y="1178">méretarány</text>
<text x="1602.4" y="1178">témaszám</text>
</g>
<text x="1591" y="104" text-anchor="middle" font-size="17.7" font-weight="bold">BUDAPEST AIRPORT</text>
<text x="1591" y="160" text-anchor="middle" font-size="17.7" font-weight="bold" textLength="349" lengthAdjust="spacingAndGlyphs">D400 GÖV. TÜZIVÍZ VEZETÉK TERVEZÉS</text>

<!-- criterion -->
<path d="M1455,271 Q1438,254 1421,271" stroke="#000" stroke-width="7" fill="none"/>
<path d="M1455,292 Q1438,309 1421,292" stroke="#000" stroke-width="7" fill="none"/>
<polygon points="1416,276 1433,282 1416,289" fill="#000"/>
<text x="1439" y="322" text-anchor="middle" font-size="12" font-weight="bold" textLength="98" lengthAdjust="spacing">CRITERION</text>
<g font-size="15.4">
<text x="1527" y="274.7" textLength="245.8" lengthAdjust="spacingAndGlyphs">CRITERION Biztonságtechnikai Zrt..</text>
<text x="1527" y="297">Székhely: 1033 Budapest, III. ker.</text>
<text x="1602" y="320">Harrer Pál u. 3-5.</text>
</g>
<g font-size="15">
<text x="1385" y="389">Domonkos András</text>
<text x="1385" y="410.8">egyéni vállalkozó</text>
<text x="1385" y="432.4">MMK: 01-16975</text>
</g>
<path d="M1636,396 Q1650,391 1662,394 M1643,396 Q1646,408 1643,418 Q1652,419 1656,408 Q1660,401 1665,410 Q1670,413 1675,404 Q1680,411 1686,406 Q1690,398 1692,391 Q1692,405 1698,411 Q1703,403 1708,408 Q1712,413 1714,405 Q1716,410 1722,407 M1722,419 Q1727,401 1735,389 Q1734,404 1737,416 M1724,409 L1742,405 Q1747,399 1750,408 Q1754,413 1758,404 Q1752,400 1745,410" stroke="#1a2fd0" stroke-width="1.1" fill="none"/>

<!-- BB logo -->
<text x="1520" y="537" text-anchor="middle" font-size="58" font-weight="bold" font-style="italic" fill="#707070" textLength="123" lengthAdjust="spacingAndGlyphs">BB</text>
<path d="M1490,503 C1460,508 1452,530 1470,540 C1500,552 1550,540 1588,524" stroke="#2f86c0" stroke-width="4" fill="none"/>
<text x="1520" y="566.4" text-anchor="middle" font-size="13" font-weight="bold" fill="#2f75aa" textLength="122" lengthAdjust="spacingAndGlyphs">BUDAY BALAZS</text>
<text x="1520" y="578" text-anchor="middle" font-size="7.5" fill="#888" textLength="95" lengthAdjust="spacing">PRIVATE DESIGNER</text>
<!-- QR -->
<rect x="1646" y="505" width="79" height="77" fill="url(#qr)"/>
<rect x="1646" y="505" width="79" height="77" fill="url(#qr2)"/>
<g>
<rect x="1646" y="505" width="22" height="22" fill="#000"/><rect x="1649" y="508" width="16" height="16" fill="#fff"/><rect x="1652" y="511" width="10" height="10" fill="#000"/>
<rect x="1703" y="505" width="22" height="22" fill="#000"/><rect x="1706" y="508" width="16" height="16" fill="#fff"/><rect x="1709" y="511" width="10" height="10" fill="#000"/>
<rect x="1646" y="560" width="22" height="22" fill="#000"/><rect x="1649" y="563" width="16" height="16" fill="#fff"/><rect x="1652" y="566" width="10" height="10" fill="#000"/>
</g>
<!-- contact icons -->
<polygon points="1523,604 1534,594 1545,604" fill="#2a5db0"/><rect x="1527" y="603" width="14" height="9" fill="#2a5db0"/><rect x="1532" y="606" width="4" height="6" fill="#fff"/><circle cx="1544" cy="598" r="5" fill="#5bb85b"/>
<rect x="1547" y="614" width="19" height="19" rx="4" fill="#7ab8e8"/><path d="M1551,620 Q1556,630 1562,628" stroke="#fff" stroke-width="2" fill="none"/>
<rect x="1568" y="640" width="21" height="16" fill="#2f5fb0"/><rect x="1570" y="642" width="17" height="12" fill="#fff"/><path d="M1570,642 L1578.5,649 L1587,642" stroke="#2f5fb0" fill="none"/>
<rect x="1591" y="658" width="20" height="20" rx="3" fill="#3b5ba5"/><text x="1603" y="669" font-size="17" font-weight="bold" fill="#fff" text-anchor="middle">f</text>
<rect x="1613" y="680" width="21" height="21" rx="5" fill="#e0306a"/><rect x="1617" y="684" width="13" height="13" rx="3" fill="none" stroke="#fff" stroke-width="1.5"/><circle cx="1623.5" cy="690.5" r="3" fill="none" stroke="#fff" stroke-width="1.5"/>
<g font-size="8.5" fill="#222">
<text x="1558" y="601.7" textLength="122" lengthAdjust="spacingAndGlyphs">H-2330 Dunaharaszti, Domb u 12.</text>
<text x="1580.5" y="624.5" textLength="64" lengthAdjust="spacingAndGlyphs">+36 30 623 25 54</text>
<text x="1603" y="646.5" textLength="109.4" lengthAdjust="spacingAndGlyphs">bbprivatedesigner@gmail.com</text>
<text x="1625" y="668.7" textLength="64.6" lengthAdjust="spacingAndGlyphs">bbprivatedesigner</text>
<text x="1648.5" y="690" textLength="64" lengthAdjust="spacingAndGlyphs">bbprivatedesigner</text>
</g>
<text x="1497" y="730" text-anchor="middle" font-size="17.6">Buday Balázs</text>
<text x="1496" y="752" text-anchor="middle" font-size="15.1">felelős tervező</text>
<text x="1499" y="774.5" text-anchor="middle" font-size="15.2">MMK: 13-15339/13-66539</text>
<path d="M1636,774 Q1700,756 1800,737 M1636,772 Q1660,771 1735,749 Q1762,741 1700,746 Q1676,752 1655,760 M1676,760 L1728,744 Q1748,738 1715,742 M1690,752 Q1720,747 1750,740" stroke="#4a5ae0" stroke-width="0.9" fill="none"/>

<text x="1593" y="877" text-anchor="middle" font-size="19.5">KIVITELI TERV</text>
<text x="1593.5" y="999.8" text-anchor="middle" font-size="19.5" textLength="366" lengthAdjust="spacingAndGlyphs">KÖZMŰELHELYEZÉSI HELYSZÍNRAJZ</text>
<text x="1480" y="1115.5" text-anchor="middle" font-size="25.2">K_OL_03_22</text>
<text x="1707" y="1115.5" text-anchor="middle" font-size="25.2" textLength="225" lengthAdjust="spacingAndGlyphs">2020. december 18.</text>
<text x="1479.5" y="1233.8" text-anchor="middle" font-size="24.9">M=1:500</text>
<text x="1707" y="1234" text-anchor="middle" font-size="24.9">009</text>
</svg>
</body></html>
